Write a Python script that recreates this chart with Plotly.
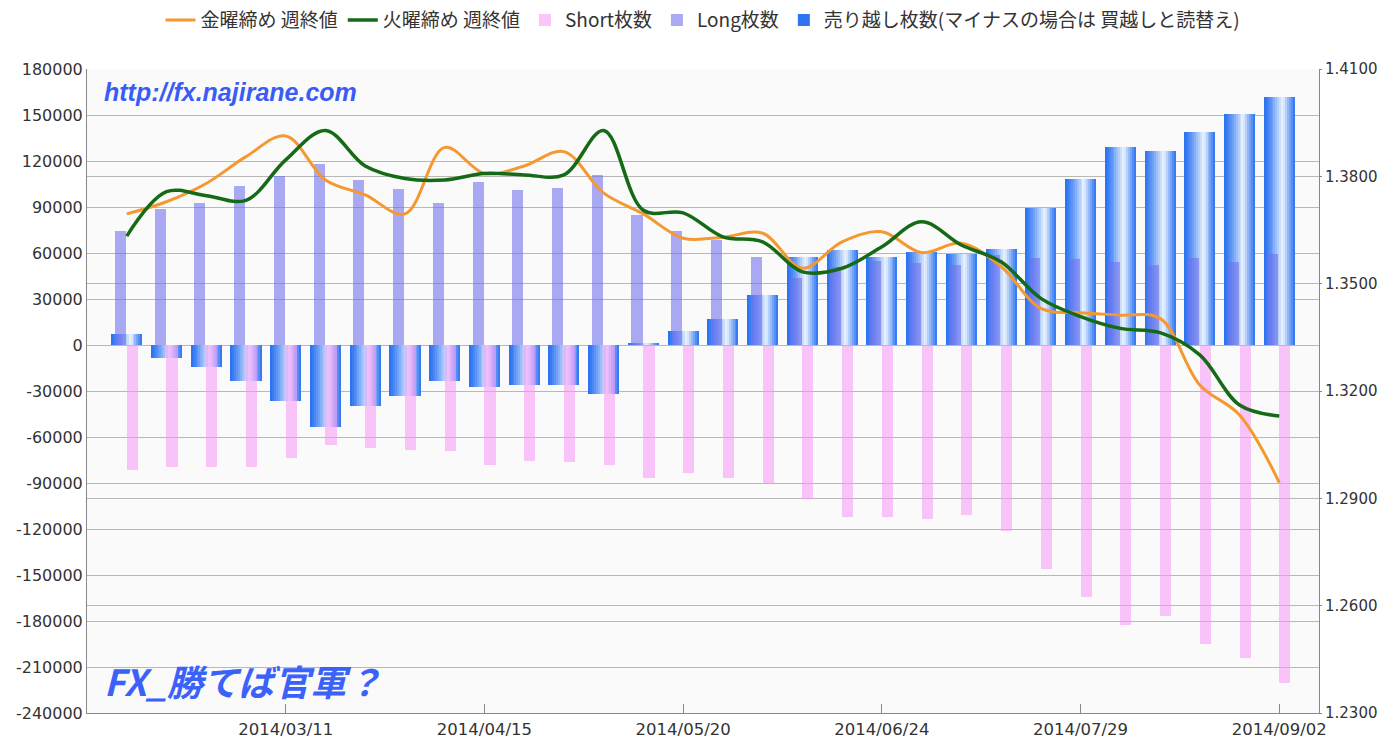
import plotly.graph_objects as go

dates = ['2014/02/11', '2014/02/18', '2014/02/25', '2014/03/04', '2014/03/11', '2014/03/18',
         '2014/03/25', '2014/04/01', '2014/04/08', '2014/04/15', '2014/04/22', '2014/04/29',
         '2014/05/06', '2014/05/13', '2014/05/20', '2014/05/27', '2014/06/03', '2014/06/10',
         '2014/06/17', '2014/06/24', '2014/07/01', '2014/07/08', '2014/07/15', '2014/07/22',
         '2014/07/29', '2014/08/05', '2014/08/12', '2014/08/19', '2014/08/26', '2014/09/02']

short_pos = [-81500, -79800, -79400, -79800, -73900, -65200, -67400, -68500, -68900, -78300,
             -75700, -76100, -78300, -86500, -83300, -87000, -90700, -100700, -112400, -112400,
             -113700, -110900, -121300, -146300, -164600, -182800, -176800, -195000, -204400, -220200]

long_pos = [74600, 88500, 92800, 103700, 110200, 118000, 107600, 101700, 92800, 106500,
            101100, 102200, 110900, 84800, 74600, 68500, 57600, 43500, 51000, 54800,
            53300, 52200, 58500, 56500, 56000, 54000, 52200, 56500, 53900, 59400]

net_short = [7000, -8700, -14100, -23300, -36800, -53300, -39800, -33300, -23300, -27600,
             -25900, -25900, -32200, 1500, 9300, 16800, 32800, 57400, 61700, 57300,
             60900, 59200, 62600, 89600, 108300, 128900, 126300, 139100, 150900, 161500]

fri_close = [1.3695, 1.3729, 1.3780, 1.3855, 1.3913, 1.3790, 1.3748, 1.3695, 1.3881, 1.3808,
             1.3829, 1.3869, 1.3753, 1.3695, 1.3627, 1.3630, 1.3641, 1.3543, 1.3617, 1.3645,
             1.3587, 1.3613, 1.3548, 1.3431, 1.3419, 1.3412, 1.3403, 1.3217, 1.3133, 1.2944]

tue_close = [1.3633, 1.3757, 1.3746, 1.3733, 1.3846, 1.3928, 1.3829, 1.3794, 1.3790, 1.3808,
             1.3804, 1.3804, 1.3928, 1.3705, 1.3698, 1.3631, 1.3617, 1.3533, 1.3543, 1.3603,
             1.3673, 1.3608, 1.3561, 1.3459, 1.3408, 1.3375, 1.3363, 1.3301, 1.3161, 1.3130]

x_ticks = ['2014/03/11', '2014/04/15', '2014/05/20', '2014/06/24', '2014/07/29', '2014/09/02']
y_ticks = [180000, 150000, 120000, 90000, 60000, 30000, 0, -30000, -60000, -90000,
           -120000, -150000, -180000, -210000, -240000]
y_tick_text = ['180000', '150000', '120000', '90000', '60000', '30000', '0', '-30000', '-60000',
               '-90000', '-120000', '-150000', '-180000', '-210000', '-240000']
y2_ticks = [1.41, 1.38, 1.35, 1.32, 1.29, 1.26, 1.23]
y2_tick_text = ['1.4100', '1.3800', '1.3500', '1.3200', '1.2900', '1.2600', '1.2300']

names = ['金曜締め 週終値', '火曜締め 週終値', 'Short枚数', 'Long枚数',
         '売り越し枚数(マイナスの場合は 買越しと読替え)']

fig = go.Figure()

# net-short bars drawn as vertical strips to imitate the horizontal gradient
N = 16
total_w = 0.78
w = total_w / N
def grad(t):
    dark = (42, 114, 242)
    light = (240, 247, 255)
    peak = 0.62
    if t <= peak:
        f = (t / peak) ** 1.3
    else:
        f = 1 - ((t - peak) / (1 - peak)) ** 0.9
    c = [int(dark[k] + (light[k] - dark[k]) * f) for k in range(3)]
    return 'rgb(%d,%d,%d)' % tuple(c)

for k in range(N):
    t = (k + 0.5) / N
    fig.add_trace(go.Bar(
        x=dates, y=net_short, width=w * 1.04, offset=-total_w / 2 + k * w,
        marker=dict(color=grad(t), line=dict(width=0)),
        name=names[4], showlegend=(k == 0), legendrank=5, legendgroup='net',
        hoverinfo='skip' if k else None,
    ))

fig.add_trace(go.Bar(
    x=dates, y=short_pos, width=0.28, offset=0.0,
    marker=dict(color='rgba(246,150,246,0.55)', line=dict(width=0)),
    name=names[2], legendrank=3,
))
fig.add_trace(go.Bar(
    x=dates, y=long_pos, width=0.28, offset=-0.30,
    marker=dict(color='rgba(110,110,238,0.58)', line=dict(width=0)),
    name=names[3], legendrank=4,
))

fig.add_trace(go.Scatter(
    x=dates, y=fri_close, yaxis='y2', mode='lines', name=names[0], legendrank=1,
    line=dict(color='#F5982F', width=3, shape='spline', smoothing=1.0),
))
fig.add_trace(go.Scatter(
    x=dates, y=tue_close, yaxis='y2', mode='lines', name=names[1], legendrank=2,
    line=dict(color='#156A16', width=3.5, shape='spline', smoothing=1.0),
))

grid = '#B8B8B8'

fig.update_layout(
    width=1380, height=742, autosize=False,
    margin=dict(l=87, r=61, t=69, b=29, autoexpand=False),
    paper_bgcolor='white', plot_bgcolor='#FAFAFA',
    barmode='overlay', bargap=0,
    font=dict(family='Noto Sans CJK JP', color='#333333'),
    showlegend=True,
    legend=dict(orientation='h', x=0.5, xanchor='center', xref='paper',
                y=0.973, yref='container', yanchor='middle',
                font=dict(family='Noto Sans CJK JP', size=19, color='#333333'),
                bgcolor='rgba(0,0,0,0)', itemwidth=30, traceorder='normal'),
    xaxis=dict(type='category', categoryorder='array', categoryarray=dates,
               range=[-1, 30], tickmode='array', tickvals=x_ticks, ticktext=x_ticks,
               ticks='inside', ticklen=9, tickcolor='#888888', showgrid=False,
               showline=True, linecolor='#888888', linewidth=1, automargin=False,
               ticklabelstandoff=1,
               tickfont=dict(family='DejaVu Sans', size=16.5, color='#333333'),
               zeroline=False, fixedrange=True),
    yaxis=dict(range=[-240000, 180000], tickmode='array', tickvals=y_ticks, ticktext=y_tick_text,
               showgrid=True, gridcolor=grid, gridwidth=1, zeroline=False,
               showline=True, linecolor='#888888', linewidth=1, automargin=False,
               ticks='',
               tickfont=dict(family='DejaVu Sans', size=16, color='#333333'), fixedrange=True),
    yaxis2=dict(range=[1.23, 1.41], overlaying='y', side='right', tickmode='array',
                tickvals=y2_ticks, ticktext=y2_tick_text,
                showgrid=True, gridcolor=grid, gridwidth=1, zeroline=False,
                showline=True, linecolor='#888888', linewidth=1, automargin=False,
                ticks='outside', ticklen=2, tickcolor='#888888',
                tickfont=dict(family='DejaVu Sans', size=15, color='#333333'), fixedrange=True),
    annotations=[
        dict(text='<b><i>http://fx.najirane.com</i></b>', xref='paper', yref='paper',
             x=0.012, y=0.964, xanchor='left', yanchor='middle', showarrow=False,
             font=dict(family='Liberation Sans', size=25, color='#3A5CF6')),
        dict(text='<b><i>FX_勝てば官軍？</i></b>', xref='paper', yref='paper',
             x=0.012, y=0.052, xanchor='left', yanchor='middle', showarrow=False,
             font=dict(family='Noto Sans CJK JP', size=36, color='#3A62F8')),
    ],
)

fig.write_html('out.html', config={'displayModeBar': False},
               post_script="document.body.style.margin='0';document.body.style.overflow='hidden';")
